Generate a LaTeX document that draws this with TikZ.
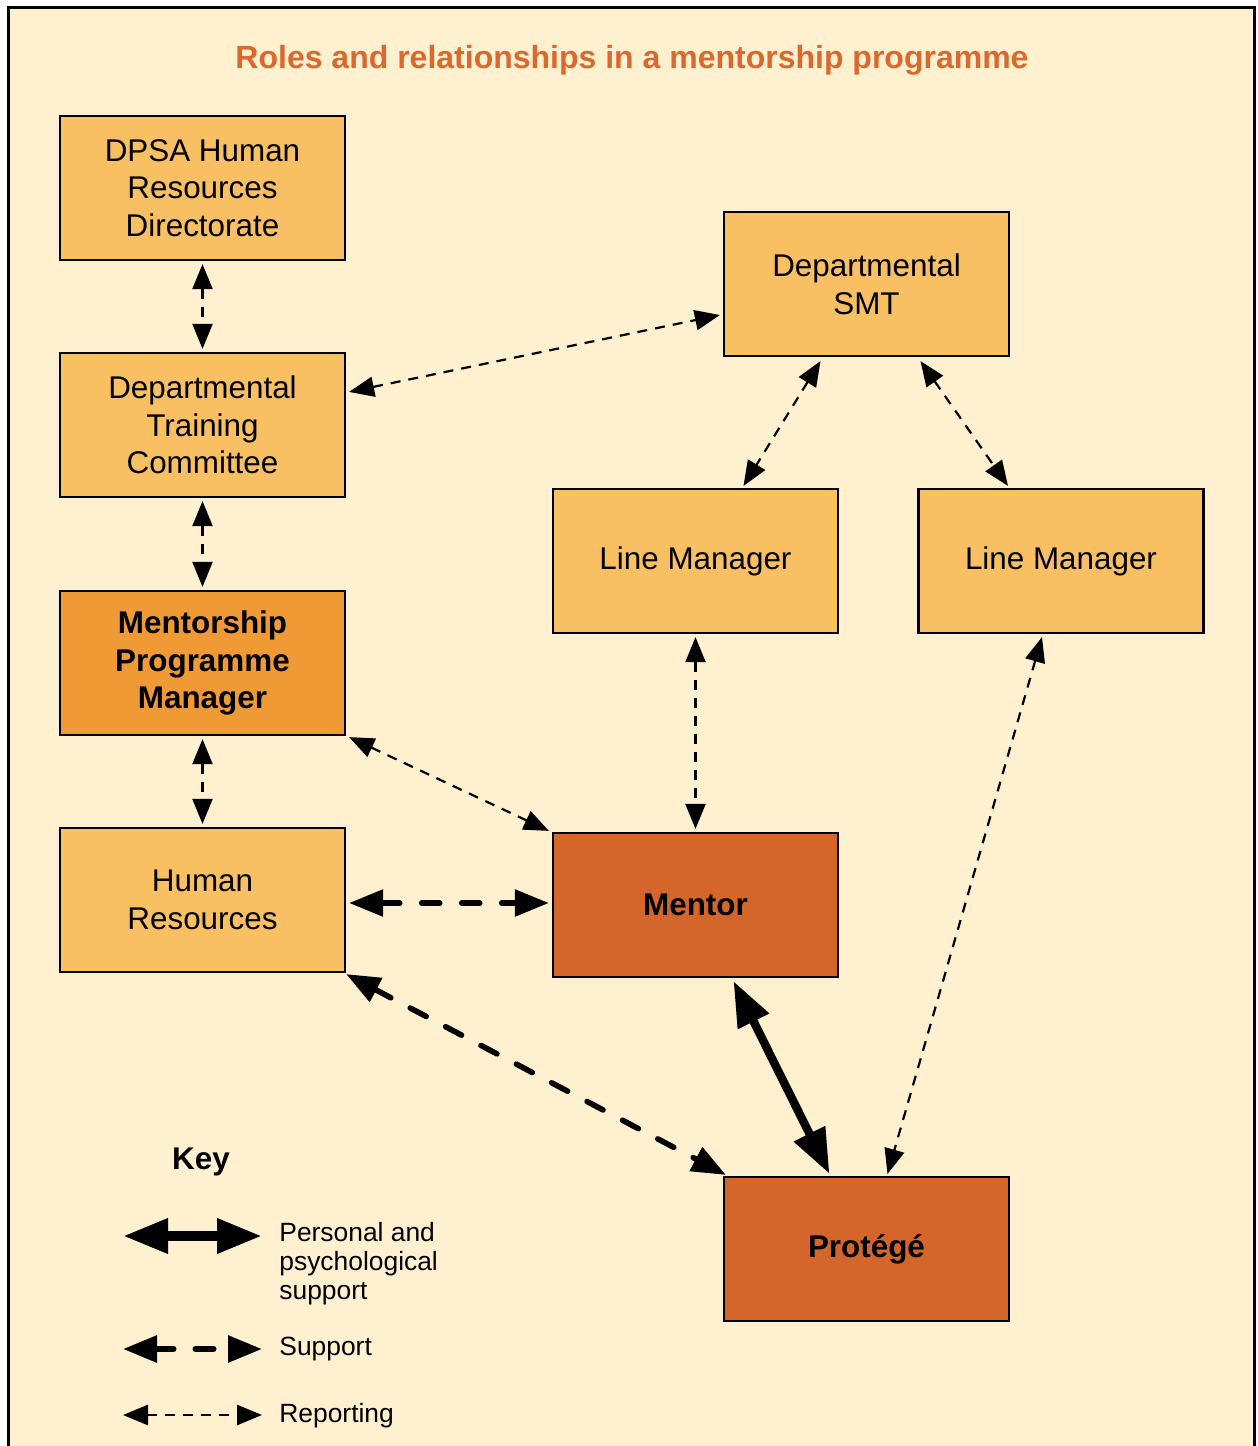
\documentclass[tikz,border=0pt]{standalone}
\usepackage{fontspec}
\setmainfont{Liberation Sans}
\usetikzlibrary{arrows.meta,calc}
\definecolor{bgcream}{HTML}{FFF1CF}
\definecolor{boxlight}{HTML}{F8C062}
\definecolor{boxmid}{HTML}{F09A36}
\definecolor{boxdark}{HTML}{D4662C}
\definecolor{titlecol}{HTML}{D9692E}
\begin{document}
\begin{tikzpicture}[x=0.5pt,y=-0.5pt,
  box/.style={draw=black,line width=1.1pt,minimum width=142.5pt,minimum height=72pt,inner sep=0pt,align=center,font=\fontsize{15.7}{18.8}\selectfont},
  light/.style={box,fill=boxlight},
  mid/.style={box,fill=boxmid,font=\fontsize{15.7}{18.8}\selectfont\bfseries},
  dark/.style={box,fill=boxdark,font=\fontsize{15.7}{18.8}\selectfont\bfseries},
  rep/.style={line width=1.1pt,dash pattern=on 5pt off 4pt,{Triangle[length=12.5pt,width=10pt]}-{Triangle[length=12.5pt,width=10pt]}},
  sup/.style={line width=2.8pt,line cap=round,dash pattern=on 9pt off 11pt,{Triangle[length=17pt,width=13pt]}-{Triangle[length=17pt,width=13pt]}},
  pers/.style={line width=4.2pt,{Triangle[length=22.5pt,width=16.5pt]}-{Triangle[length=22.5pt,width=16.5pt]}},
  keytext/.style={anchor=west,align=left,inner sep=0pt,font=\fontsize{13.2}{14.5}\selectfont}]
\useasboundingbox (0,0) rectangle (1258,1446);
\fill[white] (0,0) rectangle (1258,1446);
\fill[bgcream] (8,7) rectangle (1254,1446);
\draw[line width=1.5pt] (8,1446) -- (8,7) -- (1254,7) -- (1254,1446);

\node[font=\fontsize{16}{19}\selectfont\bfseries,text=titlecol] (title) at (632,60) {Roles and relationships in a mentorship programme};

\node[light] (dpsa) at (202.5,188) {DPSA Human\\Resources\\Directorate};
\node[light] (dtc) at (202.5,425) {Departmental\\Training\\Committee};
\node[mid] (mpm) at (202.5,663) {Mentorship\\Programme\\Manager};
\node[light] (hr) at (202.5,900) {Human\\Resources};
\node[light] (smt) at (866.5,284) {Departmental\\SMT};
\node[light] (lm1) at (695.5,561) {Line Manager};
\node[light] (lm2) at (1061,561) {Line Manager};
\node[dark] (mentor) at (695.5,905) {Mentor};
\node[dark] (protege) at (866.5,1249) {Protégé};

% reporting
\draw[rep,shorten <=1.5pt,shorten >=1.5pt] (dpsa.south) -- (dtc.north);
\draw[rep,shorten <=1.5pt,shorten >=1.5pt] (dtc.south) -- (mpm.north);
\draw[rep,shorten <=1.5pt,shorten >=1.5pt] (mpm.south) -- (hr.north);
\draw[rep] ($(dtc.north east)+(3,40)$) -- ($(smt.west)+(-3,31)$);
\draw[rep] ($(smt.south)+(-46,4)$) -- ($(lm1.north)+(48,-2)$);
\draw[rep] ($(smt.south)+(54,4)$) -- ($(lm2.north)+(-53,-2)$);
\draw[rep,shorten <=1.5pt,shorten >=1.5pt] (lm1.south) -- (mentor.north);
\draw[rep] ($(mpm.south east)+(3,1)$) -- ($(mentor.north west)+(-3,-1)$);
\draw[rep] ($(lm2.south)+(-19,3)$) -- ($(protege.north)+(21,-2)$);
% support
\draw[sup] ($(hr.east)+(3,3)$) -- ($(mentor.west)+(-3,-2)$);
\draw[sup] ($(hr.south east)+(0,1)$) -- ($(protege.north west)+(3,-1)$);
% personal
\draw[pers] ($(mentor.south)+(38,3)$) -- ($(protege.north)+(-37,-2)$);

% key
\node[font=\fontsize{15.7}{18.8}\selectfont\bfseries] (keytitle) at (201,1162) {Key};
\coordinate (k1a) at (123,1236); \coordinate (k1b) at (262,1236);
\coordinate (k2a) at (123,1349); \coordinate (k2b) at (262,1349);
\coordinate (k3a) at (123,1415); \coordinate (k3b) at (262,1415);
\draw[pers,line width=4.8pt] (k1a) -- (k1b);
\draw[sup,line width=3pt] (k2a) -- (k2b);
\draw[rep,line width=1.4pt] (k3a) -- (k3b);
\node[keytext] (k1t) at (279,1264) {Personal and\\psychological\\support};
\node[keytext] (k2t) at (279,1349) {Support};
\node[keytext] (k3t) at (279,1416) {Reporting};
\end{tikzpicture}
\end{document}
